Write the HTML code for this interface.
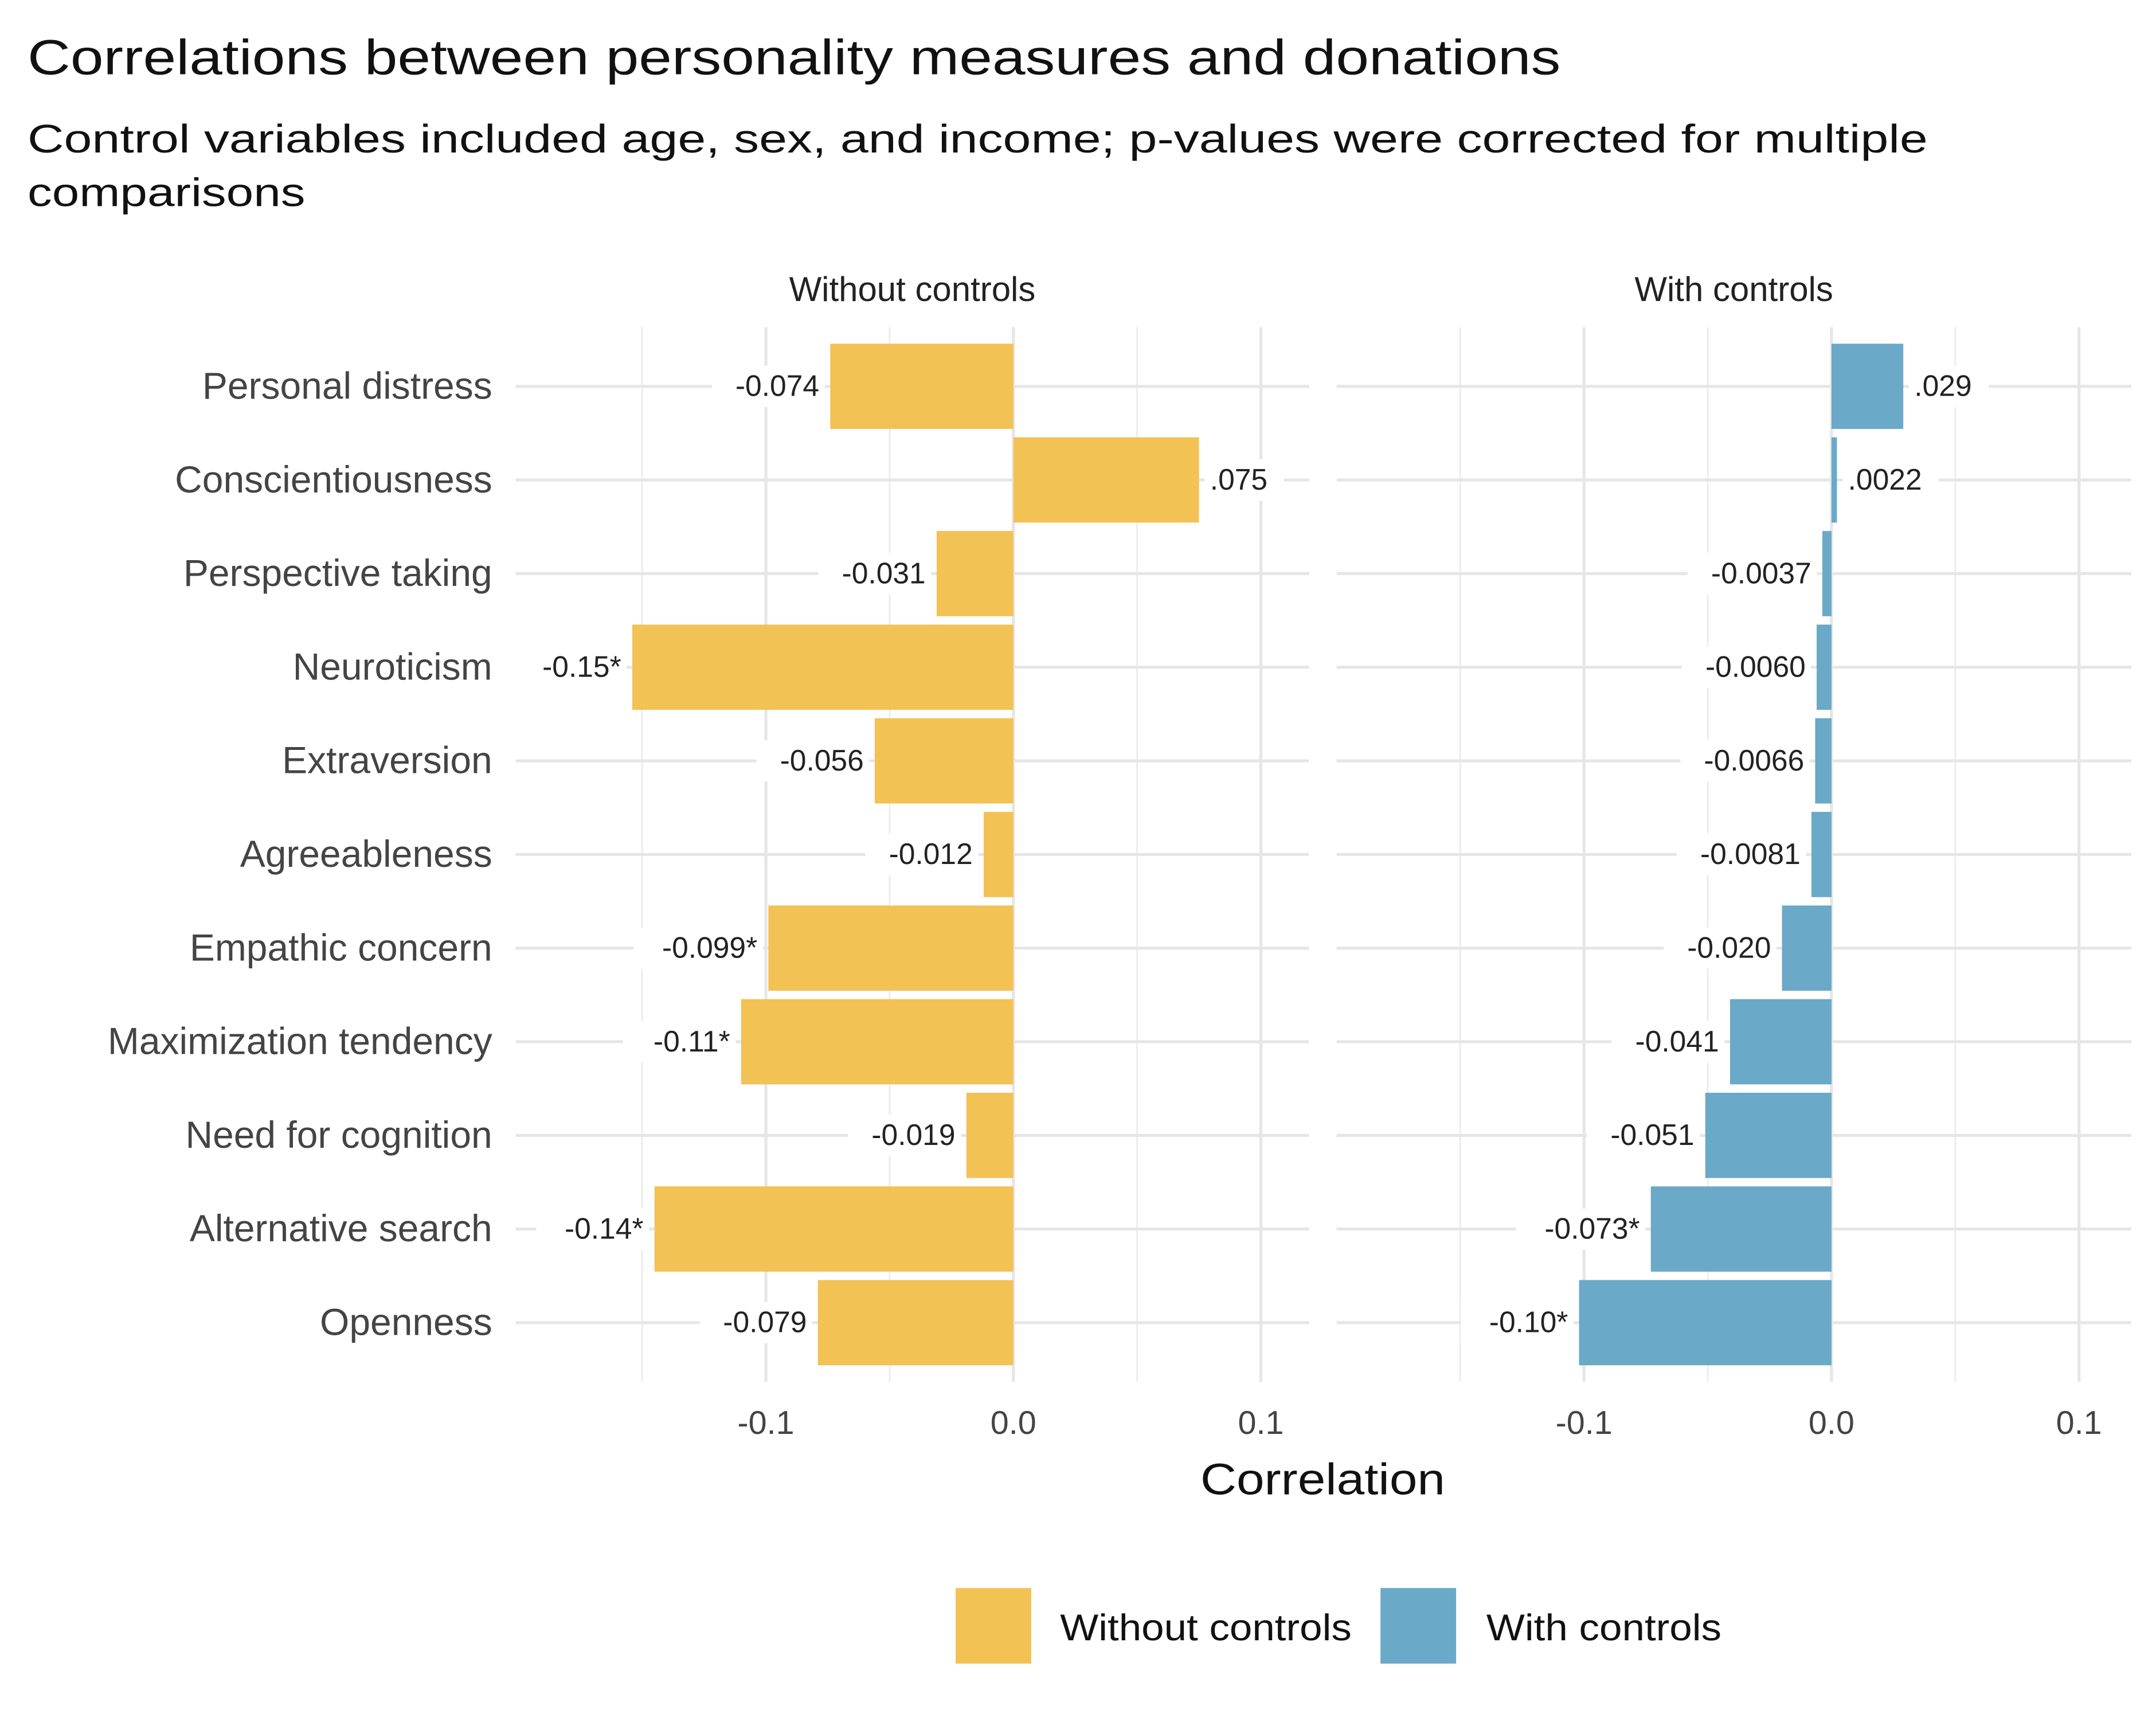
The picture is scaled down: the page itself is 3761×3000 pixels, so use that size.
<!DOCTYPE html>
<html><head><meta charset="utf-8">
<style>
html,body{margin:0;padding:0;background:#fff;}
svg{display:block;font-family:"Liberation Sans",sans-serif;}
</style></head>
<body>
<svg id="chart" width="3761" height="3000" viewBox="0 0 1568 1251" preserveAspectRatio="none" xmlns="http://www.w3.org/2000/svg">
<text x="20" y="54" font-size="36" fill="#111" textLength="1115" lengthAdjust="spacingAndGlyphs">Correlations between personality measures and donations</text>
<text x="20" y="111" font-size="29" fill="#111" textLength="1382" lengthAdjust="spacingAndGlyphs">Control variables included age, sex, and income; p-values were corrected for multiple</text>
<text x="20" y="150" font-size="29" fill="#111" textLength="202" lengthAdjust="spacingAndGlyphs">comparisons</text>
<g id="plot"></g>
<text x="962" y="1087" font-size="32" text-anchor="middle" fill="#111" textLength="178" lengthAdjust="spacingAndGlyphs">Correlation</text>
<rect x="695" y="1155" width="55" height="55" fill="#F3C254"/>
<text x="771" y="1193" font-size="27" fill="#111" textLength="212" lengthAdjust="spacingAndGlyphs">Without controls</text>
<rect x="1004" y="1155" width="55" height="55" fill="#6AA9C7"/>
<text x="1081" y="1193" font-size="27" fill="#111" textLength="171" lengthAdjust="spacingAndGlyphs">With controls</text>
</svg>
<script>
const categories = ["Personal distress","Conscientiousness","Perspective taking","Neuroticism","Extraversion","Agreeableness","Empathic concern","Maximization tendency","Need for cognition","Alternative search","Openness"];
const withoutValues = [-0.074,0.075,-0.031,-0.154,-0.056,-0.012,-0.099,-0.11,-0.019,-0.145,-0.079];
const withoutLabels = ["-0.074",".075","-0.031","-0.15*","-0.056","-0.012","-0.099*","-0.11*","-0.019","-0.14*","-0.079"];
const withValues = [0.029,0.0022,-0.0037,-0.006,-0.0066,-0.0081,-0.020,-0.041,-0.051,-0.073,-0.102];
const withLabels = [".029",".0022","-0.0037","-0.0060","-0.0066","-0.0081","-0.020","-0.041","-0.051","-0.073*","-0.10*"];
const tickValues = [-0.1,0,0.1];
const tickLabels = ["-0.1","0.0","0.1"];
const minorTicks = [-0.15,-0.05,0.05];

const NS="http://www.w3.org/2000/svg";
const g=document.getElementById('plot');
function mk(tag,attrs,parent){const e=document.createElementNS(NS,tag);for(const k in attrs)e.setAttribute(k,attrs[k]);(parent||g).appendChild(e);return e;}
const rowY=i=>281+i*68.1;
const panels=[
 {name:"without",x0:375,x1:952,zero:737,vals:withoutValues,labs:withoutLabels,color:"#F3C254",strip:"Without controls"},
 {name:"with",x0:972,x1:1550,zero:1332,vals:withValues,labs:withLabels,color:"#6AA9C7",strip:"With controls"}
];
panels.forEach(p=>{
 const sx=v=>p.zero+v*1800;
 const s=mk('text',{x:(p.x0+p.x1)/2,y:219,'font-size':25,'text-anchor':'middle',fill:'#222'});
 
 
 s.textContent=p.strip;
 minorTicks.forEach(t=>{const l=mk('line',{x1:sx(t),x2:sx(t),y1:238,y2:1005,stroke:'#ececec','stroke-width':1.2});
  
  });
 tickValues.forEach((t,i)=>{const l=mk('line',{x1:sx(t),x2:sx(t),y1:238,y2:1005,stroke:'#e6e6e6','stroke-width':2.2});
  
  
  const tx=mk('text',{x:sx(t),y:1043,'font-size':24,'text-anchor':'middle',fill:'#444'});
  
  
  tx.textContent=tickLabels[i];});
 categories.forEach((c,i)=>{const l=mk('line',{x1:p.x0,x2:p.x1,y1:rowY(i),y2:rowY(i),stroke:'#e6e6e6','stroke-width':2.2});
  
  });
 p.vals.forEach((v,i)=>{
  const x=Math.min(sx(0),sx(v)),w=Math.abs(sx(v)-sx(0));
  const r=mk('rect',{x:x,y:rowY(i)-31,width:Math.max(w,1),height:62,fill:p.color});
  
  
  const lab=p.labs[i];const tw=lab.length*12+10;
  const neg=v<0;const lx=neg?sx(v)-4:sx(v)+4;
  const bg=mk('rect',{x:neg?lx-tw:lx,y:rowY(i)-15,width:tw,height:30,fill:'#fff'});
  
  
  const t=mk('text',{x:neg?lx-4:lx+4,y:rowY(i)+7,'font-size':21.5,'text-anchor':neg?'end':'start',fill:'#222'});
  
  
  t.textContent=lab;
 });
});
categories.forEach((c,i)=>{const t=mk('text',{x:358,y:rowY(i)+9,'font-size':27.5,'text-anchor':'end',fill:'#444'});
 
 
 t.textContent=c;});
</script>
</body></html>
